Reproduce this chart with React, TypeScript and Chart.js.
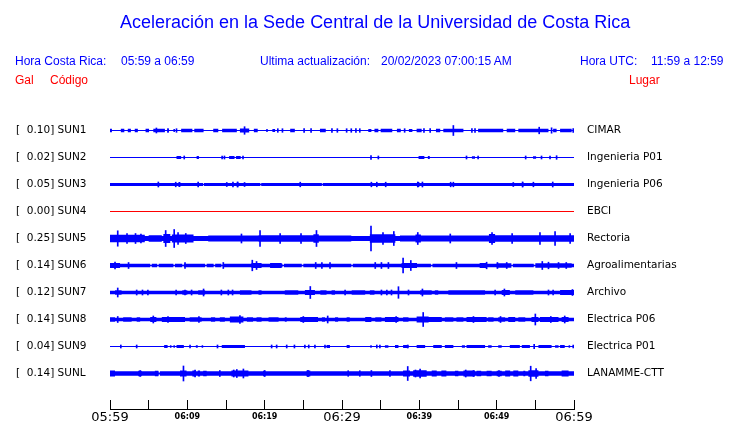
import { useEffect, useRef } from "react";
import { Chart, registerables } from "chart.js";

Chart.register(...registerables);

// ---------- data ----------
const STATIONS = ["SUN1", "SUN2", "SUN3", "SUN4", "SUN5", "SUN6", "SUN7", "SUN8", "SUN9", "SUNL"];
const PEAK_GAL = [0.1, 0.02, 0.05, 0.0, 0.25, 0.14, 0.12, 0.14, 0.04, 0.14];
const PLACES = [
  "CIMAR", "Ingenieria P01", "Ingenieria P06", "EBCI", "Rectoria",
  "Agroalimentarias", "Archivo", "Electrica P06", "Electrica P01", "LANAMME-CTT",
];
const TIME_LABELS = ["05:59", "06:09", "06:19", "06:29", "06:39", "06:49", "06:59"];
const TICK_MINUTES = [0, 5, 10, 15, 20, 25, 30, 35, 40, 45, 50, 55, 60];

// background (quiet) half-amplitude of each trace
const BASE_AMP = [0.6, 0.5, 1.6, 0.5, 2.4, 1.8, 1.7, 1.8, 0.5, 2.2];

// [startMinute, endMinute, halfAmplitude]
const SUN1_SEG = [[0,0.25,1.7],[1.4,1.85,1.7],[2.3,2.7,1.7],[3.2,3.6,1.7],[4.6,5.05,1.7],[5.6,7.1,1.8],[7.45,7.6,1.5],[8.2,8.4,1.5],[9.2,10.65,1.8],[10.9,12.1,1.8],[13.35,14.0,1.7],[14.5,16.4,1.7],[16.8,18.0,2.0],[18.6,19.1,1.7],[20.2,20.4,1.5],[21.0,21.35,1.5],[23.3,23.9,1.8],[27.15,27.9,1.7],[33.4,33.8,1.5],[34.2,34.7,1.7],[35.0,36.5,1.8],[37.1,37.6,1.7],[38.65,39.1,1.5],[39.65,40.3,1.7],[42.15,42.7,1.7],[43.1,45.7,1.8],[47.6,50.85,1.8],[51.3,52.4,1.7],[52.8,56.7,1.8],[57.3,57.75,1.7],[58.2,59.7,1.7]];
const SUN2_SEG = [[8.6,9.2,1.5],[11.2,11.5,1.5],[15.4,16.1,1.5],[16.3,16.9,1.5],[39.9,40.65,1.5],[41.1,41.35,1.5],[46.8,47.2,1.2],[54.7,55.1,1.2]];
const SUN3_SEG = [[12.05,12.15,0.6],[19.45,19.55,0.6],[27.4,27.5,0.6],[8.85,9.1,2.4],[16.4,16.6,2.4],[39.8,40.0,2.4],[53.3,53.45,2.4]];
const SUN4_SEG: number[][] = [];
const SUN5_SEG = [[0,4.5,3.8],[5.0,6.7,3.2],[6.9,7.8,4.5],[8.0,10.8,4.0],[12.7,19.2,3.0],[19.2,26.3,3.2],[26.3,27.0,4.2],[27.0,31.2,3.0],[33.6,36.9,4.3],[37.5,39.5,3.0],[39.5,40.2,4.0],[40.2,49.0,3.0],[49.0,49.8,4.5],[49.8,60,3.2]];
const SUN6_SEG = [[0,1.3,2.4],[18.3,19.6,2.4],[20.7,22.2,2.4],[37.7,39.7,2.4],[47.8,48.7,2.4],[50.0,51.9,2.3],[55.0,59.7,2.3],[5.2,5.4,0.8],[6.1,6.3,0.8],[8.2,8.4,0.8],[9.35,9.55,0.8],[12.3,12.5,0.8],[13.4,13.6,0.8],[14.4,14.6,0.8],[22.3,22.5,0.8],[24.8,25.0,0.8],[31.2,31.4,0.8],[41.5,41.7,0.8],[51.9,52.1,0.8],[54.8,55.0,0.8]];
const SUN7_SEG = [[0.65,1.5,2.3],[9.35,10.0,2.2],[11.4,12.3,2.3],[16.8,18.3,2.3],[19.2,19.6,2.2],[22.6,24.35,2.3],[25.2,26.5,2.4],[27.2,28.0,2.3],[28.65,29.1,2.2],[31.25,33.0,2.3],[33.6,34.2,2.3],[40.1,41.6,2.3],[42.0,42.45,2.2],[43.75,48.5,2.2],[50.65,51.7,2.4],[52.4,54.75,2.3],[58.2,60,2.4]];
const SUN8_SEG = [[0,0.65,2.3],[1.7,2.8,2.3],[3.45,3.9,2.3],[5.2,6.0,2.5],[6.7,9.7,2.4],[10.3,11.85,2.3],[13.05,13.6,2.3],[14.2,14.85,2.3],[15.5,17.25,3.0],[17.7,18.5,2.3],[18.95,19.6,2.3],[20.5,21.8,2.3],[22.6,22.85,2.3],[24.6,26.9,2.4],[27.4,27.8,2.3],[29.1,29.5,2.3],[30.6,31.0,2.3],[33.0,33.8,2.4],[34.3,35.1,2.3],[35.55,37.3,2.4],[37.9,38.6,2.3],[39.65,41.2,3.0],[41.2,42.9,2.4],[43.3,44.4,2.3],[44.8,45.7,2.3],[46.1,48.7,2.4],[48.9,49.6,2.3],[50.2,51.1,2.3],[51.5,52.4,2.4],[52.8,53.7,2.3],[54.5,55.4,2.4],[55.6,58.0,2.4],[58.4,59.3,2.4]];
const SUN9_SEG = [[7.0,7.45,1.4],[7.75,7.95,1.3],[8.2,8.4,1.3],[8.6,9.55,1.4],[11.1,11.35,1.3],[11.85,12.05,1.3],[14.45,17.45,1.4],[28.0,28.45,1.4],[30.6,31.0,1.4],[33.65,33.85,1.3],[35.55,36.0,1.3],[36.85,37.3,1.4],[37.9,38.6,1.4],[39.65,40.75,1.4],[41.8,42.9,1.4],[43.3,44.4,1.4],[45.5,45.9,1.3],[46.1,48.5,1.4],[48.9,49.35,1.3],[50.2,50.65,1.3],[51.7,53.0,1.4],[53.25,54.3,1.4],[55.4,57.1,1.4],[57.55,58.0,1.3],[58.2,58.8,1.4],[59.3,59.5,1.3]];
const SUNL_SEG = [[0,0.65,2.9],[3.65,4.1,2.7],[5.8,6.25,2.7],[6.3,6.45,1.0],[9.05,9.9,2.9],[10.65,11.1,2.9],[11.35,11.65,2.9],[12.05,12.5,2.7],[15.7,17.9,3.1],[19.8,20.1,2.7],[25.4,25.9,2.9],[37.9,38.8,2.9],[39.2,40.95,3.2],[41.6,42.25,2.9],[42.85,43.5,2.9],[44.6,45.05,2.7],[45.7,47.2,3.0],[47.4,48.0,2.7],[48.7,49.35,2.7],[50.0,50.65,2.7],[51.1,51.75,2.9],[52.15,52.8,2.9],[53.45,53.7,2.7],[54.1,55.4,3.2],[56.25,56.7,2.7],[58.4,59.3,2.9]];

// [minute, halfAmplitude] short spikes
const SUN1_SPK = [[6.0,2.5],[17.4,3.8],[44.4,5.0],[55.5,3.3],[57.1,2.7],[7.5,2],[8.6,1.8],[21.7,1.8],[22.3,1.8],[25.1,1.8],[26.0,1.8],[28.7,1.8],[29.4,1.8],[30.6,1.8],[31.2,1.8],[31.8,1.8],[32.3,1.8],[38.1,1.8],[40.6,1.8],[41.4,1.8],[46.8,1.8],[47.2,1.8],[59.9,2]];
const SUN2_SPK = [[9.6,1.5],[14.5,1.5],[14.8,1.5],[17.2,1.5],[33.75,1.8],[34.7,1.5],[46.1,1.5],[47.6,1.5],[53.75,1.5],[55.8,1.5],[56.9,1.5],[57.75,1.8]];
const SUN3_SPK = [[6.25,2.5],[8.5,2.3],[11.4,2.3],[15.1,2.0],[15.9,2.3],[16.5,2.6],[17.4,2.0],[24.6,2.3],[33.8,2.3],[34.5,2.3],[35.65,2.3],[39.8,2.5],[40.4,2.5],[44.05,2.3],[44.4,2.3],[52.15,2.0],[53.35,2.6],[54.75,2.3],[57.25,2.5]];
const SUN4_SPK: number[][] = [];
const SUN5_SPK = [[1.0,7.7],[2.2,5],[3.3,5],[4.0,4.5],[7.2,8],[8.3,9],[8.8,6],[9.8,5],[17.0,4.5],[19.4,8],[22.0,5],[24.7,5],[26.7,8],[33.75,12.5],[35.3,6],[36.7,7],[39.8,6],[44.0,4.5],[49.4,6],[52.0,5],[55.6,6],[57.55,7],[59.5,5]];
const SUN6_SPK = [[0.65,3.5],[2.4,3],[9.7,3],[14.65,3],[18.4,5.3],[18.95,4],[26.6,3],[27.4,3],[28.45,3],[34.3,3],[35.1,3],[36.0,3],[37.9,7.3],[38.9,5],[44.8,3],[48.7,3.3],[50.1,3],[51.3,3],[55.9,4],[56.7,3.3],[58.0,3],[59.0,3]];
const SUN7_SPK = [[1.0,4.5],[25.9,6],[37.3,5.8],[12.1,3.5],[3.45,2.5],[4.2,2.5],[4.9,2.5],[8.55,2.5],[9.7,2.5],[10.55,2.5],[14.4,2.5],[15.3,2.5],[15.85,2.5],[30.4,2.5],[35.1,2.5],[35.8,2.5],[36.4,2.5],[38.6,2.5],[40.4,3.5],[49.8,2.5],[51.0,3.5],[56.7,2.5],[57.3,2.5],[59.8,3]];
const SUN8_SPK = [[40.5,7],[28.15,3.5],[16.8,4],[55.0,5.5],[58.8,3.5],[5.6,3.5],[1.0,3],[7.5,3],[11.5,3],[25.0,3],[37.0,3],[47.0,3],[50.5,3],[57.0,3]];
const SUN9_SPK = [[1.4,1.5],[3.45,1.5],[10.35,1.5],[13.9,1.5],[20.9,1.5],[21.55,1.5],[22.85,1.5],[23.85,1.5],[25.2,1.5],[25.7,1.5],[26.5,1.5],[27.8,1.5],[34.5,1.5],[34.9,1.5],[38.5,1.5],[54.85,2.2],[59.9,1.5]];
const SUNL_SPK = [[9.5,7.5],[38.5,7],[54.4,7.3],[55.1,5],[16.4,4],[17.25,4.5],[16.0,3.5],[40.1,4.5],[39.5,3.5],[11.0,3.5],[3.9,3],[46.0,3.5],[47.0,3],[50.3,3],[14.2,3],[20.0,3],[25.6,3.2],[30.8,2.8],[32.3,2.8],[33.8,3],[36.2,2.8]];

const SEGMENTS = [SUN1_SEG, SUN2_SEG, SUN3_SEG, SUN4_SEG, SUN5_SEG, SUN6_SEG, SUN7_SEG, SUN8_SEG, SUN9_SEG, SUNL_SEG];
const SPIKES = [SUN1_SPK, SUN2_SPK, SUN3_SPK, SUN4_SPK, SUN5_SPK, SUN6_SPK, SUN7_SPK, SUN8_SPK, SUN9_SPK, SUNL_SPK];

// ---------- style ----------
const BLUE = "#0000ff";
const RED = "#ff0000";
const TRACE_COLORS = [BLUE, BLUE, BLUE, RED, BLUE, BLUE, BLUE, BLUE, BLUE, BLUE];
const ROW_GAP = 27;
const Y_MIN = -9;
const Y_MAX = 300;
const SANS = '"Liberation Sans", Arial, Helvetica, sans-serif';
const DEJAVU = '"DejaVu Sans", sans-serif';

const text = (extra: Record<string, any>) => ({
  position: "absolute" as const,
  fontFamily: SANS,
  fontSize: 12,
  lineHeight: "14px",
  whiteSpace: "pre" as const,
  color: BLUE,
  ...extra,
});

export default function App() {
  const ref = useRef<HTMLCanvasElement | null>(null);

  useEffect(() => {
    if (!ref.current) return;
    const n = STATIONS.length;
    const centers = STATIONS.map((_, i) => ROW_GAP * (n - i) - 0.5);

    const datasets: any[] = [];
    STATIONS.forEach((_, i) => {
      const c = centers[i];
      const base = BASE_AMP[i];
      const pts: number[][] = [[0, base]];
      [...SEGMENTS[i]].sort((a, b) => a[0] - b[0]).forEach(([t0, t1, a]) => {
        pts.push([t0, a], [t1, base]);
      });
      pts.push([60, base]);
      const common = {
        type: "line",
        stepped: "before",
        pointRadius: 0,
        pointHoverRadius: 0,
        borderColor: "transparent",
        borderWidth: 1,
        backgroundColor: TRACE_COLORS[i],
        tension: 0,
      };
      datasets.push({ ...common, label: STATIONS[i] + "+", data: pts.map(([t, a]) => ({ x: t, y: c + a })), fill: "+1" });
      datasets.push({ ...common, label: STATIONS[i] + "-", data: pts.map(([t, a]) => ({ x: t, y: c - a })), fill: false });
    });

    const spikeData: any[] = [];
    SPIKES.forEach((list, i) => {
      list.forEach(([t, a]) => spikeData.push({ x: t, y: [centers[i] - a, centers[i] + a] }));
    });
    datasets.push({
      type: "bar",
      label: "spikes",
      data: spikeData,
      backgroundColor: BLUE,
      borderWidth: 0,
      barThickness: 1,
    });

    const setRowTicks = (s: any) => {
      s.ticks = centers.map((v) => ({ value: v }));
    };

    const chart = new Chart(ref.current, {
      type: "line",
      data: { datasets },
      options: {
        animation: false,
        responsive: false,
        devicePixelRatio: 1,
        events: [],
        layout: { padding: { left: 16, top: 100, right: 0, bottom: 0 } },
        plugins: { legend: { display: false }, tooltip: { enabled: false }, title: { display: false } },
        scales: {
          x: {
            type: "linear",
            min: 0,
            max: 60,
            offset: false,
            position: "bottom",
            afterBuildTicks: (s: any) => {
              s.ticks = TICK_MINUTES.map((v) => ({ value: v }));
            },
            afterFit: (s: any) => {
              s.height = 14;
            },
            grid: {
              display: true,
              offset: false,
              drawOnChartArea: false,
              drawTicks: true,
              tickLength: -9,
              color: "#000",
              lineWidth: 1,
            },
            border: { display: true, color: "#000", width: 1 },
            ticks: {
              autoSkip: false,
              maxRotation: 0,
              minRotation: 0,
              padding: 11,
              color: "#000",
              callback: (v: any) => (Number(v) % 10 === 0 ? TIME_LABELS[Number(v) / 10] : ""),
              font: (ctx: any) =>
                ctx.tick && ctx.tick.value % 30 === 0
                  ? { family: DEJAVU, size: 13, lineHeight: 1.05 }
                  : { family: DEJAVU, size: 8, weight: "bold", lineHeight: 1.45 },
            },
          },
          y: {
            type: "linear",
            position: "left",
            min: Y_MIN,
            max: Y_MAX,
            afterBuildTicks: setRowTicks,
            afterFit: (s: any) => {
              s.width = 94;
            },
            grid: { display: false, drawTicks: false },
            border: { display: false },
            ticks: {
              autoSkip: false,
              crossAlign: "far",
              padding: 0,
              color: "#000",
              font: { family: DEJAVU, size: 10.5 },
              callback: (_v: any, idx: number) => `[${PEAK_GAL[idx].toFixed(2).padStart(6)}] ${STATIONS[idx]}`,
            },
          },
          y2: {
            type: "linear",
            position: "right",
            min: Y_MIN,
            max: Y_MAX,
            afterBuildTicks: setRowTicks,
            afterFit: (s: any) => {
              s.width = 166;
            },
            grid: { display: false, drawTicks: true, tickLength: 13 },
            border: { display: false },
            ticks: {
              autoSkip: false,
              crossAlign: "near",
              padding: 0,
              color: "#000",
              font: { family: DEJAVU, size: 10.5 },
              callback: (_v: any, idx: number) => PLACES[idx],
            },
          },
        },
      } as any,
    });
    return () => chart.destroy();
  }, []);

  return (
    <div style={{ position: "fixed", left: 0, top: 0, width: 740, height: 423, background: "#fff", overflow: "hidden" }}>
      <canvas ref={ref} width={740} height={423} style={{ position: "absolute", left: 0, top: 0 }} />
      <div style={text({ left: 120, top: 12, fontSize: 18, lineHeight: "20px" })}>
        Aceleración en la Sede Central de la Universidad de Costa Rica
      </div>
      <div style={text({ left: 15, top: 54 })}>Hora Costa Rica:</div>
      <div style={text({ left: 121, top: 54 })}>05:59 a 06:59</div>
      <div style={text({ left: 260, top: 54 })}>Ultima actualización:</div>
      <div style={text({ left: 381, top: 54 })}>20/02/2023 07:00:15 AM</div>
      <div style={text({ left: 580, top: 54 })}>Hora UTC:</div>
      <div style={text({ left: 651, top: 54 })}>11:59 a 12:59</div>
      <div style={text({ left: 15, top: 73, color: RED })}>Gal</div>
      <div style={text({ left: 50, top: 73, color: RED })}>Código</div>
      <div style={text({ left: 629, top: 73, color: RED })}>Lugar</div>
    </div>
  );
}
